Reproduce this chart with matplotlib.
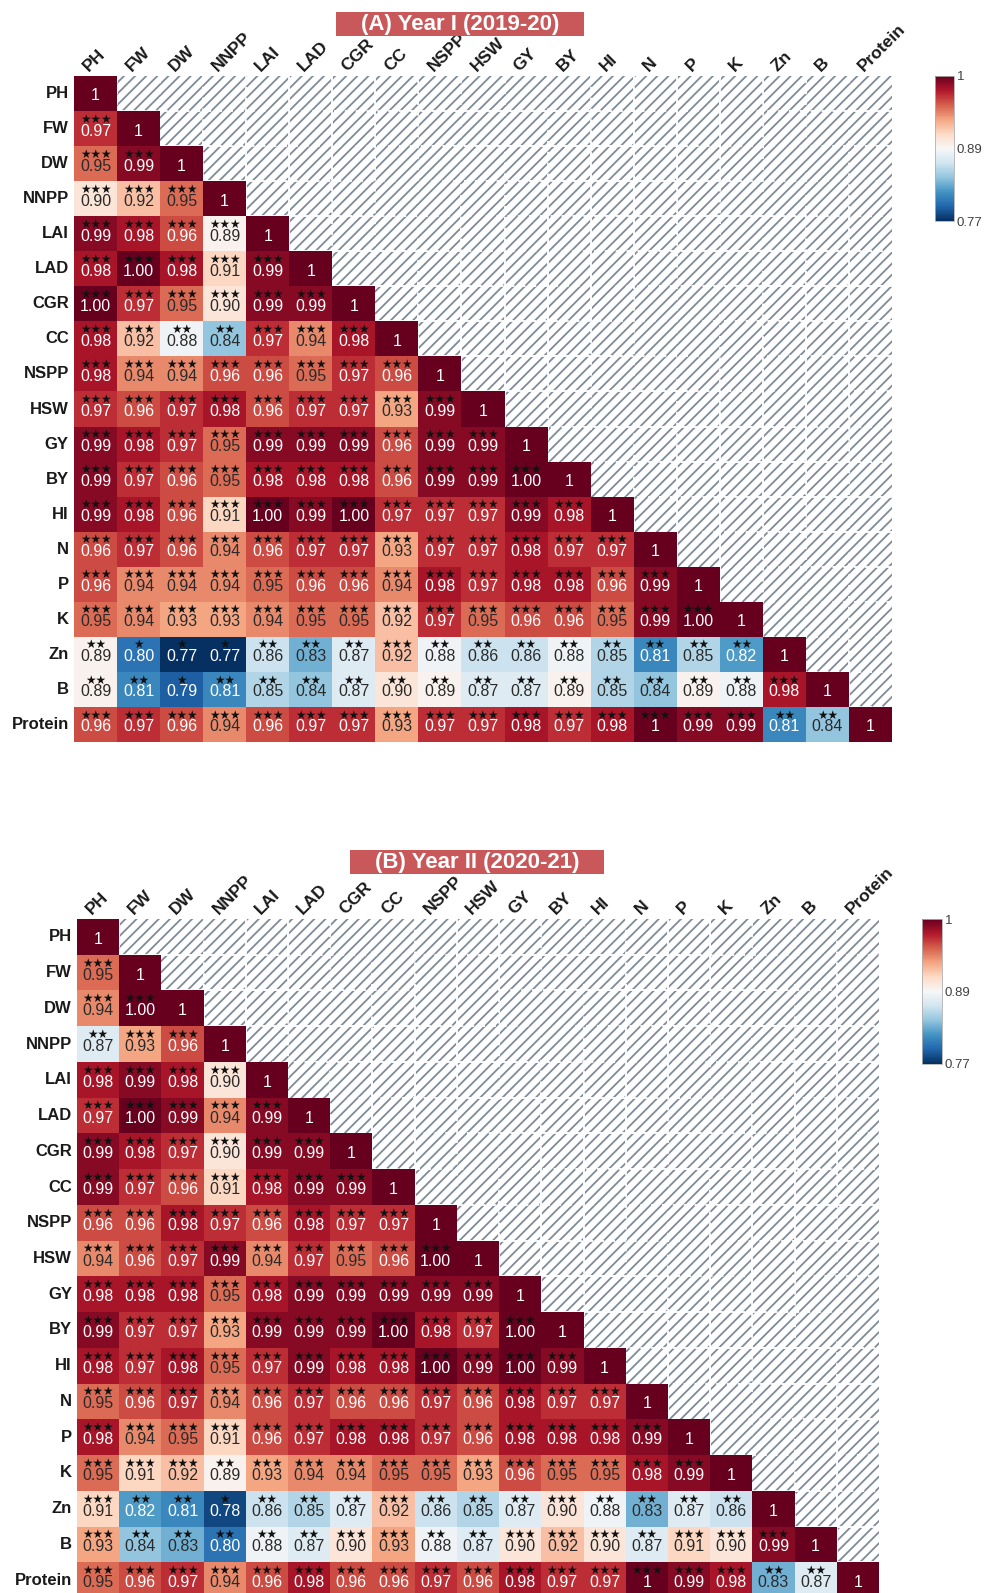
import matplotlib
matplotlib.use("Agg")
import matplotlib.pyplot as plt
from matplotlib.patches import Rectangle
import numpy as np

plt.rcParams['font.family'] = ['Liberation Sans', 'DejaVu Sans']
plt.rcParams['hatch.linewidth'] = 1.3

traits = ['PH', 'FW', 'DW', 'NNPP', 'LAI', 'LAD', 'CGR', 'CC', 'NSPP', 'HSW',
          'GY', 'BY', 'HI', 'N', 'P', 'K', 'Zn', 'B', 'Protein']

# lower-triangle correlation coefficients, row by row (as printed in the cells)
year1_r = [
    ['1'],
    ['0.97', '1'],
    ['0.95', '0.99', '1'],
    ['0.90', '0.92', '0.95', '1'],
    ['0.99', '0.98', '0.96', '0.89', '1'],
    ['0.98', '1.00', '0.98', '0.91', '0.99', '1'],
    ['1.00', '0.97', '0.95', '0.90', '0.99', '0.99', '1'],
    ['0.98', '0.92', '0.88', '0.84', '0.97', '0.94', '0.98', '1'],
    ['0.98', '0.94', '0.94', '0.96', '0.96', '0.95', '0.97', '0.96', '1'],
    ['0.97', '0.96', '0.97', '0.98', '0.96', '0.97', '0.97', '0.93', '0.99', '1'],
    ['0.99', '0.98', '0.97', '0.95', '0.99', '0.99', '0.99', '0.96', '0.99', '0.99', '1'],
    ['0.99', '0.97', '0.96', '0.95', '0.98', '0.98', '0.98', '0.96', '0.99', '0.99', '1.00', '1'],
    ['0.99', '0.98', '0.96', '0.91', '1.00', '0.99', '1.00', '0.97', '0.97', '0.97', '0.99', '0.98', '1'],
    ['0.96', '0.97', '0.96', '0.94', '0.96', '0.97', '0.97', '0.93', '0.97', '0.97', '0.98', '0.97', '0.97', '1'],
    ['0.96', '0.94', '0.94', '0.94', '0.95', '0.96', '0.96', '0.94', '0.98', '0.97', '0.98', '0.98', '0.96', '0.99', '1'],
    ['0.95', '0.94', '0.93', '0.93', '0.94', '0.95', '0.95', '0.92', '0.97', '0.95', '0.96', '0.96', '0.95', '0.99', '1.00', '1'],
    ['0.89', '0.80', '0.77', '0.77', '0.86', '0.83', '0.87', '0.92', '0.88', '0.86', '0.86', '0.88', '0.85', '0.81', '0.85', '0.82', '1'],
    ['0.89', '0.81', '0.79', '0.81', '0.85', '0.84', '0.87', '0.90', '0.89', '0.87', '0.87', '0.89', '0.85', '0.84', '0.89', '0.88', '0.98', '1'],
    ['0.96', '0.97', '0.96', '0.94', '0.96', '0.97', '0.97', '0.93', '0.97', '0.97', '0.98', '0.97', '0.98', '1', '0.99', '0.99', '0.81', '0.84', '1'],
]

# number of significance stars per cell
year1_sig = [
    [0],
    [3, 0],
    [3, 3, 0],
    [3, 3, 3, 0],
    [3, 3, 3, 3, 0],
    [3, 3, 3, 3, 3, 0],
    [3, 3, 3, 3, 3, 3, 0],
    [3, 3, 2, 2, 3, 3, 3, 0],
    [3] * 8 + [0],
    [3] * 9 + [0],
    [3] * 10 + [0],
    [3] * 11 + [0],
    [3] * 12 + [0],
    [3] * 13 + [0],
    [3] * 14 + [0],
    [3] * 15 + [0],
    [2, 1, 1, 1, 2, 2, 2, 3, 2, 2, 2, 2, 2, 2, 2, 2, 0],
    [2, 2, 1, 2, 2, 2, 2, 2, 2, 2, 2, 2, 2, 2, 2, 2, 3, 0],
    [3] * 16 + [2, 2, 0],
]

year2_r = [
    ['1'],
    ['0.95', '1'],
    ['0.94', '1.00', '1'],
    ['0.87', '0.93', '0.96', '1'],
    ['0.98', '0.99', '0.98', '0.90', '1'],
    ['0.97', '1.00', '0.99', '0.94', '0.99', '1'],
    ['0.99', '0.98', '0.97', '0.90', '0.99', '0.99', '1'],
    ['0.99', '0.97', '0.96', '0.91', '0.98', '0.99', '0.99', '1'],
    ['0.96', '0.96', '0.98', '0.97', '0.96', '0.98', '0.97', '0.97', '1'],
    ['0.94', '0.96', '0.97', '0.99', '0.94', '0.97', '0.95', '0.96', '1.00', '1'],
    ['0.98', '0.98', '0.98', '0.95', '0.98', '0.99', '0.99', '0.99', '0.99', '0.99', '1'],
    ['0.99', '0.97', '0.97', '0.93', '0.99', '0.99', '0.99', '1.00', '0.98', '0.97', '1.00', '1'],
    ['0.98', '0.97', '0.98', '0.95', '0.97', '0.99', '0.98', '0.98', '1.00', '0.99', '1.00', '0.99', '1'],
    ['0.95', '0.96', '0.97', '0.94', '0.96', '0.97', '0.96', '0.96', '0.97', '0.96', '0.98', '0.97', '0.97', '1'],
    ['0.98', '0.94', '0.95', '0.91', '0.96', '0.97', '0.98', '0.98', '0.97', '0.96', '0.98', '0.98', '0.98', '0.99', '1'],
    ['0.95', '0.91', '0.92', '0.89', '0.93', '0.94', '0.94', '0.95', '0.95', '0.93', '0.96', '0.95', '0.95', '0.98', '0.99', '1'],
    ['0.91', '0.82', '0.81', '0.78', '0.86', '0.85', '0.87', '0.92', '0.86', '0.85', '0.87', '0.90', '0.88', '0.83', '0.87', '0.86', '1'],
    ['0.93', '0.84', '0.83', '0.80', '0.88', '0.87', '0.90', '0.93', '0.88', '0.87', '0.90', '0.92', '0.90', '0.87', '0.91', '0.90', '0.99', '1'],
    ['0.95', '0.96', '0.97', '0.94', '0.96', '0.98', '0.96', '0.96', '0.97', '0.96', '0.98', '0.97', '0.97', '1', '0.99', '0.98', '0.83', '0.87', '1'],
]

year2_sig = [
    [0],
    [3, 0],
    [3, 3, 0],
    [2, 3, 3, 0],
    [3, 3, 3, 3, 0],
    [3] * 5 + [0],
    [3] * 6 + [0],
    [3] * 7 + [0],
    [3] * 8 + [0],
    [3] * 9 + [0],
    [3] * 10 + [0],
    [3] * 11 + [0],
    [3] * 12 + [0],
    [3] * 13 + [0],
    [3] * 14 + [0],
    [3, 3, 3, 2] + [3] * 11 + [0],
    [3, 2, 2, 1, 2, 2, 2, 3, 2, 2, 2, 3, 2, 2, 2, 2, 0],
    [3, 2, 2, 2, 2, 2, 3, 3, 2, 2, 3, 3, 3, 2, 3, 3, 3, 0],
    [3] * 16 + [2, 2, 0],
]

panel_titles = ['(A) Year I (2019-20)', '(B) Year II (2020-21)']

VMIN, VMAX = 0.77, 1.0
W, H = 984, 1593
BOLD = dict(family='Liberation Sans', weight='bold')
fig = plt.figure(figsize=(W / 100, H / 100), dpi=100)


def px_axes(x0, y0, x1, y1):
    return fig.add_axes([x0 / W, 1 - y1 / H, (x1 - x0) / W, (y1 - y0) / H])


def draw_panel(rows, sig, title, box, cbar_box, title_box):
    n = len(traits)
    ax = px_axes(*box)
    mat = np.full((n, n), np.nan)
    for i, row in enumerate(rows):
        for j, s in enumerate(row):
            mat[i, j] = float(s)

    ax.set_xlim(0, n)
    ax.set_ylim(n, 0)

    # hatched background for the masked upper triangle
    ax.add_patch(Rectangle((0, 0), n, n, facecolor='white', edgecolor='#808b98',
                           hatch='///', lw=0, zorder=0))
    for k in range(1, n):
        ax.plot([k, k], [0, n], color='white', lw=1.3, ls=(0, (4, 2)), zorder=0.5)
        ax.plot([0, n], [k, k], color='white', lw=1.3, ls=(0, (4, 2)), zorder=0.5)

    mesh = ax.pcolormesh(np.arange(n + 1), np.arange(n + 1),
                         np.ma.masked_invalid(mat), cmap='RdBu_r',
                         vmin=VMIN, vmax=VMAX, zorder=1)

    for i, row in enumerate(rows):
        for j, s in enumerate(row):
            v = float(s)
            light = v >= 0.955 or v <= 0.82
            ax.text(j + 0.5, i + 0.57, s, ha='center', va='center', fontsize=11.5,
                    color='white' if light else '#2a2a2a', zorder=3)
            if sig[i][j]:
                ax.text(j + 0.5, i + 0.23, '\u2605' * sig[i][j], ha='center',
                        va='center', fontsize=8.5, color='#111111',
                        family='DejaVu Sans', zorder=4)

    for spine in ax.spines.values():
        spine.set_visible(False)
    ax.set_xticks([])
    ax.set_yticks([])

    for k, name in enumerate(traits):
        ax.text(-0.12, k + 0.5, name, ha='right', va='center', fontsize=12,
                color='#1a1a1a', **BOLD)
        ax.text(k + 0.40, -0.06, name, ha='left', va='bottom', fontsize=12.5,
                color='#1a1a1a', rotation=45, rotation_mode='anchor', **BOLD)

    cax = px_axes(*cbar_box)
    cb = fig.colorbar(mesh, cax=cax, ticks=[VMIN, (VMIN + VMAX) / 2, VMAX])
    cb.ax.set_yticklabels(['0.77', '0.89', '1'])
    cb.ax.tick_params(length=0, labelsize=9.5, labelcolor='#404040', pad=2)
    cb.outline.set_edgecolor('#b0b0b0')
    cb.outline.set_linewidth(0.6)

    x0, y0, x1, y1 = title_box
    tax = px_axes(x0, y0, x1, y1)
    tax.set_axis_off()
    tax.add_patch(Rectangle((0, 0), 1, 1, transform=tax.transAxes,
                            facecolor='#c9585b', edgecolor='none'))
    tax.text(0.5, 0.48, title, transform=tax.transAxes, ha='center', va='center',
             fontsize=16, color='white', **BOLD)


draw_panel(year1_r, year1_sig, panel_titles[0],
           (74, 76, 892, 742), (935, 76, 954, 221), (336, 12, 584, 36))
draw_panel(year2_r, year2_sig, panel_titles[1],
           (77, 919, 879, 1598), (922, 919, 942, 1064), (350, 850, 604, 874))

fig.savefig('out.png', dpi=100)
